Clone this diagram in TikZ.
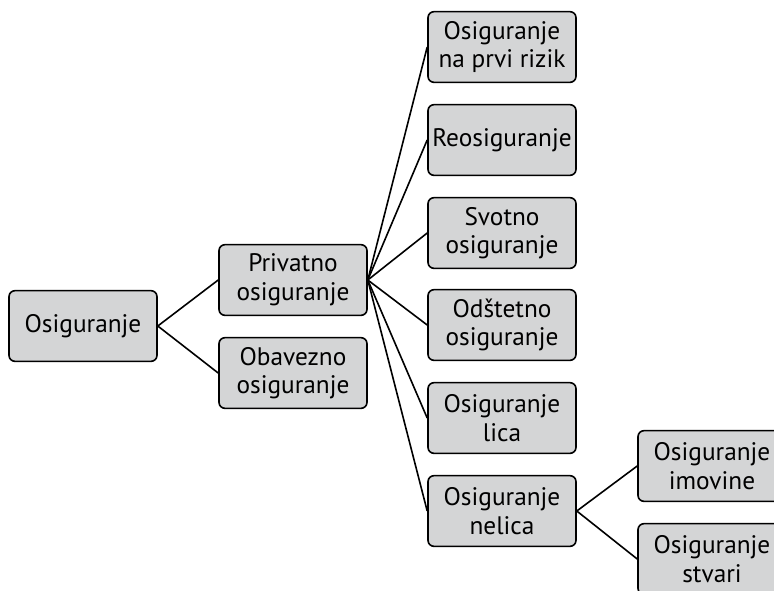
\documentclass[tikz,border=0pt]{standalone}
\usepackage{fontspec}
\setmainfont{PT Sans}
\usetikzlibrary{positioning}
\definecolor{boxgray}{HTML}{D4D5D6}

\begin{document}
\begin{tikzpicture}[x=0.75pt,y=-0.75pt,
    every node/.style={draw,line width=1.2pt,fill=boxgray,rounded corners=4.5pt,
      minimum width=111pt,minimum height=53pt,inner xsep=2pt,align=center,
      font=\fontsize{19}{21.5}\selectfont},
    every edge/.style={draw,line width=1.2pt}]
  \clip (0,0) rectangle (774,590);
  \node (n1) at (83,326) {Osiguranje};
  \node (n11) at (293,280) {Privatno\\osiguranje};
  \node (n12) at (293,373) {Obavezno\\osiguranje};
  \node (n111) at (502,47) {Osiguranje\\na prvi rizik};
  \node (n112) at (502,140) {Reosiguranje};
  \node (n113) at (502,233) {Svotno\\osiguranje};
  \node (n114) at (502,325) {Odštetno\\osiguranje};
  \node (n115) at (502,418) {Osiguranje\\lica};
  \node (n116) at (502,511) {Osiguranje\\nelica};
  \node (n1161) at (712,466) {Osiguranje\\imovine};
  \node (n1162) at (712,559) {Osiguranje\\stvari};
  \path (n1.east) edge (n11.west); \path (n1.east) edge (n12.west);
  \path (n11.east) edge (n111.west); \path (n11.east) edge (n112.west);
  \path (n11.east) edge (n113.west); \path (n11.east) edge (n114.west);
  \path (n11.east) edge (n115.west); \path (n11.east) edge (n116.west);
  \path (n116.east) edge (n1161.west); \path (n116.east) edge (n1162.west);
\end{tikzpicture}
\end{document}
